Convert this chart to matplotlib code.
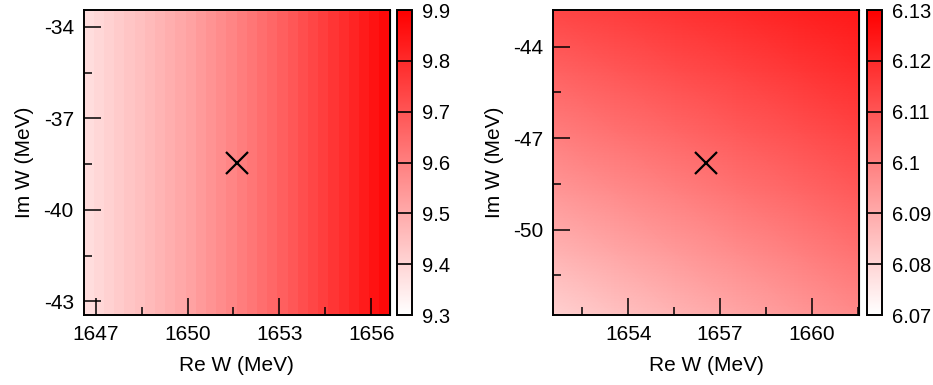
import numpy as np
import matplotlib
matplotlib.use("Agg")
import matplotlib.pyplot as plt
from matplotlib.colors import LinearSegmentedColormap, Normalize

plt.rcParams['font.family'] = ['Liberation Sans', 'DejaVu Sans']

# ---------------- data ----------------
# Left panel: value per Re W column (constant along Im W)
left_re_edges_range = [1646.6, 1656.6]
left_im_range = [-43.45, -33.45]
left_col_values = [9.380, 9.394, 9.408, 9.422, 9.436, 9.450, 9.464, 9.478,
                   9.492, 9.506, 9.520, 9.537, 9.554, 9.571, 9.588, 9.605,
                   9.622, 9.640, 9.658, 9.677, 9.696, 9.715, 9.734, 9.754,
                   9.774, 9.794, 9.814, 9.835, 9.856, 9.877]
left_pole = [1651.6, -38.45]
left_xticks = [1647, 1650, 1653, 1656]
left_yticks = [-43, -40, -37, -34]
left_cbticks = [9.3, 9.4, 9.5, 9.6, 9.7, 9.8, 9.9]
left_cblabels = ["9.3", "9.4", "9.5", "9.6", "9.7", "9.8", "9.9"]

# Right panel: node grid (rows from top Im W to bottom, columns in Re W)
right_re_range = [1651.55, 1661.55]
right_im_range = [-52.8, -42.8]
right_grid = [
    [6.1135, 6.1157, 6.1179, 6.1201, 6.1223, 6.1245],
    [6.1070, 6.1095, 6.1120, 6.1145, 6.1170, 6.1195],
    [6.1006, 6.1033, 6.1060, 6.1087, 6.1114, 6.1141],
    [6.0942, 6.0971, 6.1000, 6.1029, 6.1058, 6.1087],
    [6.0876, 6.0907, 6.0938, 6.0969, 6.1000, 6.1031],
    [6.0810, 6.0843, 6.0876, 6.0909, 6.0942, 6.0975],
]
right_pole = [1656.55, -47.82]
right_xticks = [1654, 1657, 1660]
right_yticks = [-50, -47, -44]
right_cbticks = [6.07, 6.08, 6.09, 6.10, 6.11, 6.12, 6.13]
right_cblabels = ["6.07", "6.08", "6.09", "6.1", "6.11", "6.12", "6.13"]

cmap = LinearSegmentedColormap.from_list("wr", ["#ffffff", "#ff0000"])

W, H = 933, 385
fig = plt.figure(figsize=(W / 100, H / 100), dpi=100)

def fx(px):
    return px / W

def fy(py_top, py_bot):
    return 1 - py_bot / H, (py_bot - py_top) / H

FS = 15.0
FSCB = 14.5

def style_axes(ax, xticks, yticks, xr, yr):
    ax.set_xlim(*xr)
    ax.set_ylim(*yr)
    ax.set_xticks(xticks)
    ax.set_yticks(yticks)
    ax.set_xticklabels([str(t) for t in xticks])
    ax.set_yticklabels([str(t) for t in yticks])
    xminor = [t + 1.5 for t in [xticks[0] - 3] + xticks]
    yminor = [t + 1.5 for t in [yticks[0] - 3] + yticks]
    xminor = [t for t in xminor if xr[0] < t < xr[1]]
    yminor = [t for t in yminor if yr[0] < t < yr[1]]
    ax.set_xticks(xminor, minor=True)
    ax.set_yticks(yminor, minor=True)
    ax.tick_params(which='major', direction='in', length=12, width=1.1,
                   labelsize=FS, pad=7, top=False, right=False)
    ax.tick_params(which='minor', direction='in', length=6, width=1.1,
                   top=False, right=False)
    for s in ax.spines.values():
        s.set_linewidth(1.4)
    # mirrored short ticks
    sx = ax.secondary_xaxis('top')
    sx.set_xticks(sorted(list(xticks) + xminor))
    sx.tick_params(direction='in', length=6, width=1.1, labeltop=False)
    sx.set_xticklabels([])
    sy = ax.secondary_yaxis('right')
    sy.set_yticks(sorted(list(yticks) + yminor))
    sy.tick_params(direction='in', length=6, width=1.1, labelright=False)
    sy.set_yticklabels([])
    ax.set_xlabel("Re W (MeV)", fontsize=FS, labelpad=9)
    ax.set_ylabel("Im W (MeV)", fontsize=FS, labelpad=7)

def colorbar(cax, mappable, ticks, labels):
    cb = fig.colorbar(mappable, cax=cax)
    cb.set_ticks(ticks)
    cb.set_ticklabels(labels)
    cb.ax.tick_params(length=0, labelsize=FSCB, pad=7)
    cb.outline.set_linewidth(1.4)
    for t in ticks[1:-1]:
        cb.ax.axhline(t, color='black', lw=1.2)
    return cb

# ---------- left panel ----------
b, h = fy(10, 315)
axL = fig.add_axes([fx(83.5), b, fx(306), h])
nL = len(left_col_values)
xe = np.linspace(left_re_edges_range[0], left_re_edges_range[1], nL + 1)
ye = np.array(left_im_range)
ZL = np.array(left_col_values)[None, :]
normL = Normalize(vmin=left_cbticks[0], vmax=left_cbticks[-1])
mL = axL.pcolormesh(xe, ye, ZL, cmap=cmap, norm=normL, shading='flat',
                    edgecolors='face', linewidth=0.0, rasterized=True)
axL.plot([left_pole[0]], [left_pole[1]], marker='x', color='black',
         markersize=16, mew=1.6, linestyle='none')
style_axes(axL, left_xticks, left_yticks, left_re_edges_range, left_im_range)
caxL = fig.add_axes([fx(396.7), b, fx(15.6), h])
colorbar(caxL, mL, left_cbticks, left_cblabels)

# ---------- right panel ----------
axR = fig.add_axes([fx(553.3), b, fx(306), h])
RG = np.array(right_grid)[::-1]  # bottom row first
ny, nx = RG.shape
xr = np.linspace(right_re_range[0], right_re_range[1], nx)
yr = np.linspace(right_im_range[0], right_im_range[1], ny)
normR = Normalize(vmin=right_cbticks[0], vmax=right_cbticks[-1])
mR = axR.pcolormesh(xr, yr, RG, cmap=cmap, norm=normR, shading='gouraud',
                    rasterized=True)
axR.plot([right_pole[0]], [right_pole[1]], marker='x', color='black',
         markersize=16, mew=1.6, linestyle='none')
style_axes(axR, right_xticks, right_yticks, right_re_range, right_im_range)
caxR = fig.add_axes([fx(866.7), b, fx(15.6), h])
colorbar(caxR, mR, right_cbticks, right_cblabels)

fig.savefig("out.png", dpi=100)
